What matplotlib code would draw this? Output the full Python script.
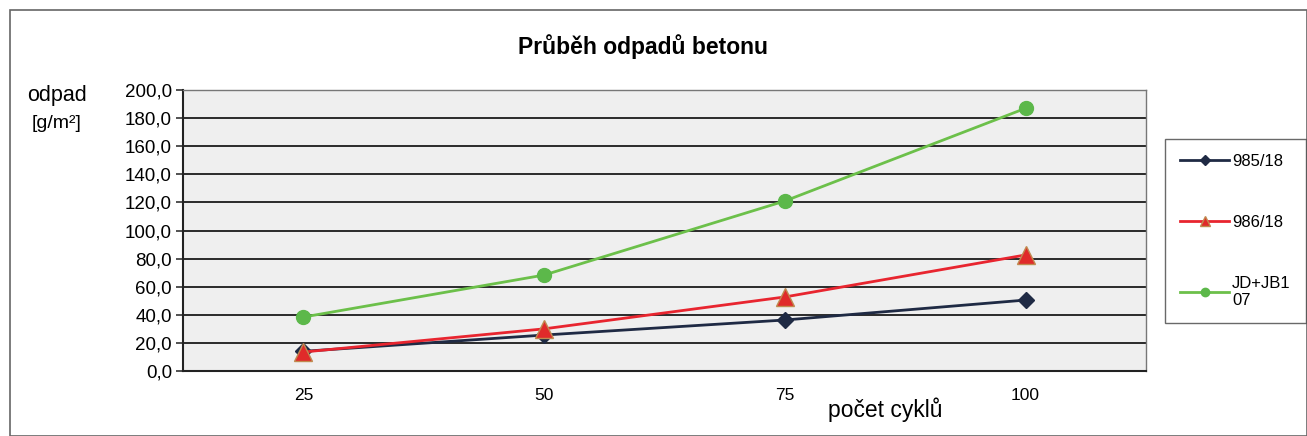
import matplotlib
matplotlib.use("Agg")
import matplotlib.pyplot as plt
from matplotlib.patches import Rectangle

plt.rcParams['font.family'] = ['Liberation Sans', 'DejaVu Sans']

categories = ["25", "50", "75", "100"]
s985 = [14.0, 25.6, 36.3, 50.5]
s986 = [13.5, 30.0, 52.7, 82.6]
sjd = [38.4, 68.3, 121.0, 187.0]
yticks = [0, 20, 40, 60, 80, 100, 120, 140, 160, 180, 200]

fig = plt.figure(figsize=(13.07, 4.36), dpi=100)
fig.patch.set_facecolor('white')
W, H = 1307, 436
ax = fig.add_axes([183 / W, 1 - 371 / H, (1146 - 183) / W, (371 - 90) / H])
ax.set_facecolor('#efefef')

x = list(range(len(categories)))
ax.plot(x, s985, color='#1f2a44', lw=2, marker='D', ms=8, label='985/18', zorder=3)
ax.plot(x, s986, color='#e8252f', lw=2, marker='^', ms=13, mfc='#e02a2a', mec='#c08a50', label='986/18', zorder=4)
ax.plot(x, sjd, color='#6cc04a', lw=2, marker='o', ms=10, mfc='#5cb84a', mec='#5cb84a', label='JD+JB1\n07', zorder=5)

ax.set_xlim(-0.5, len(categories) - 0.5)
ax.set_ylim(0, 200)
ax.set_yticks(yticks)
ax.set_yticklabels([f"{v:.1f}".replace('.', ',') for v in yticks], fontsize=13.5)
ax.set_xticks(x)
ax.set_xticklabels(categories, fontsize=12.5)
ax.tick_params(axis='x', length=0, pad=12)
ax.tick_params(axis='y', length=5, width=1.2, color='#333333', pad=3)
ax.yaxis.grid(True, color='#2a2a2a', lw=1.4)
ax.set_axisbelow(True)
for side in ['left', 'bottom']:
    ax.spines[side].set_color('#222222')
    ax.spines[side].set_linewidth(1.5)
for side in ['top', 'right']:
    ax.spines[side].set_color('#777777')
    ax.spines[side].set_linewidth(1.0)

fig.text(643 / W, 1 - 47 / H, "Průběh odpadů betonu", fontsize=16.5, fontweight='bold',
         ha='center', va='center')
fig.text(57 / W, 1 - 96 / H, "odpad", fontsize=15.5, ha='center', va='center')
fig.text(57 / W, 1 - 123 / H, "[g/m²]", fontsize=14, ha='center', va='center')
fig.text(885 / W, 1 - 410 / H, "počet cyklů", fontsize=16.5, ha='center', va='center')

# outer frame
fig.patches.append(Rectangle((10 / W, 0), (W - 10) / W, 1 - 10 / H, transform=fig.transFigure,
                             fill=False, ec='#666666', lw=1.2))

leg = fig.legend(loc='upper left', bbox_to_anchor=(1157 / W, 1 - 131 / H), fontsize=12,
                 frameon=True, fancybox=False, edgecolor='#444444', labelspacing=2.75,
                 handlelength=2.9, borderpad=0.9, handletextpad=0.2, markerscale=0.6,
                 borderaxespad=0.5)
leg.get_frame().set_linewidth(1.0)

fig.savefig("out.png", dpi=100)
